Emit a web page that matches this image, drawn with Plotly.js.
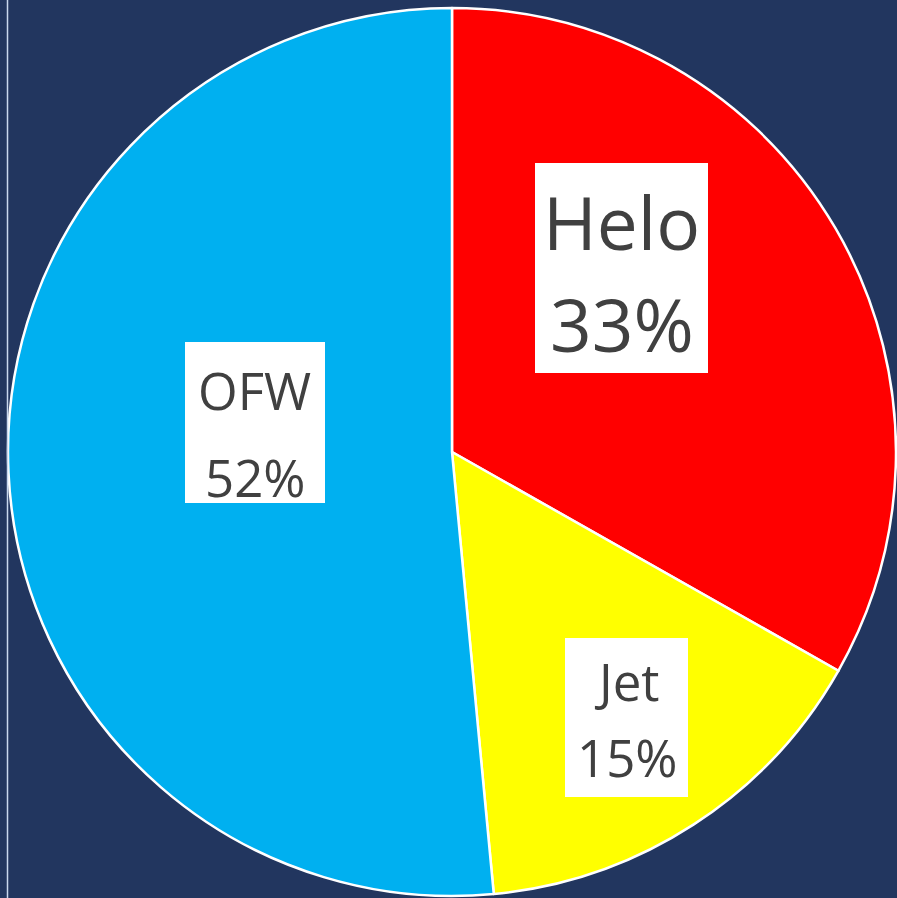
<!DOCTYPE html>
<html>
<head>
<meta charset="utf-8">
<script src="https://cdn.plot.ly/plotly-3.0.1.min.js"></script>
<style>html,body{margin:0;padding:0;background:#22365F;}#chart{width:897px;height:898px;}</style>
</head>
<body>
<div id="chart"></div>
<script>
// Data
var categories = ["Helo", "Jet", "OFW"];
var shares = [33.2, 15.3, 51.5];
var sliceColors = ["#FF0000", "#FFFF00", "#00B0F0"];

var W = 897, H = 898;
function px(x) { return x / W; }
function py(y) { return 1 - y / H; }

// label box layout (pixel boxes: x0, x1, y0, y1, line1 center y, line2 center y, font size)
var boxLayout = [
  {x0: 535, x1: 708, y0: 163, y1: 373, l1: 221, l2: 323, fs: 73},
  {x0: 565, x1: 688, y0: 638, y1: 797, l1: 681, l2: 757, fs: 51},
  {x0: 185, x1: 325, y0: 342, y1: 503, l1: 390, l2: 477, fs: 51}
];

var shapes = [{
  type: "line", xref: "paper", yref: "paper",
  x0: px(7.5), x1: px(7.5), y0: 0, y1: 1,
  line: {color: "#C9D8EE", width: 1.5}
}];
var annotations = [];
categories.forEach(function (c, i) {
  var b = boxLayout[i];
  var cx = (b.x0 + b.x1) / 2;
  shapes.push({
    type: "rect", xref: "paper", yref: "paper",
    x0: px(b.x0), x1: px(b.x1), y0: py(b.y1), y1: py(b.y0),
    fillcolor: "#FFFFFF", line: {width: 0}, layer: "above"
  });
  [c, Math.round(shares[i]) + "%"].forEach(function (t, k) {
    annotations.push({
      xref: "paper", yref: "paper",
      x: px(cx), y: py(k === 0 ? b.l1 : b.l2),
      xanchor: "center", yanchor: "middle",
      text: t, showarrow: false,
      font: {family: "Open Sans, sans-serif", size: b.fs, color: "#404040"}
    });
  });
});

var trace = {
  type: "pie",
  labels: categories,
  values: shares,
  sort: false,
  direction: "clockwise",
  rotation: 0,
  textinfo: "none",
  hoverinfo: "label+percent",
  marker: {colors: sliceColors, line: {color: "#FFFFFF", width: 2.5}},
  domain: {x: [px(8), px(896)], y: [py(896), py(8)]},
  showlegend: false
};

var layout = {
  width: W, height: H,
  margin: {l: 0, r: 0, t: 0, b: 0},
  paper_bgcolor: "#22365F",
  plot_bgcolor: "#22365F",
  showlegend: false,
  shapes: shapes,
  annotations: annotations
};

Plotly.newPlot("chart", [trace], layout, {displayModeBar: false, staticPlot: true});
</script>
</body>
</html>
